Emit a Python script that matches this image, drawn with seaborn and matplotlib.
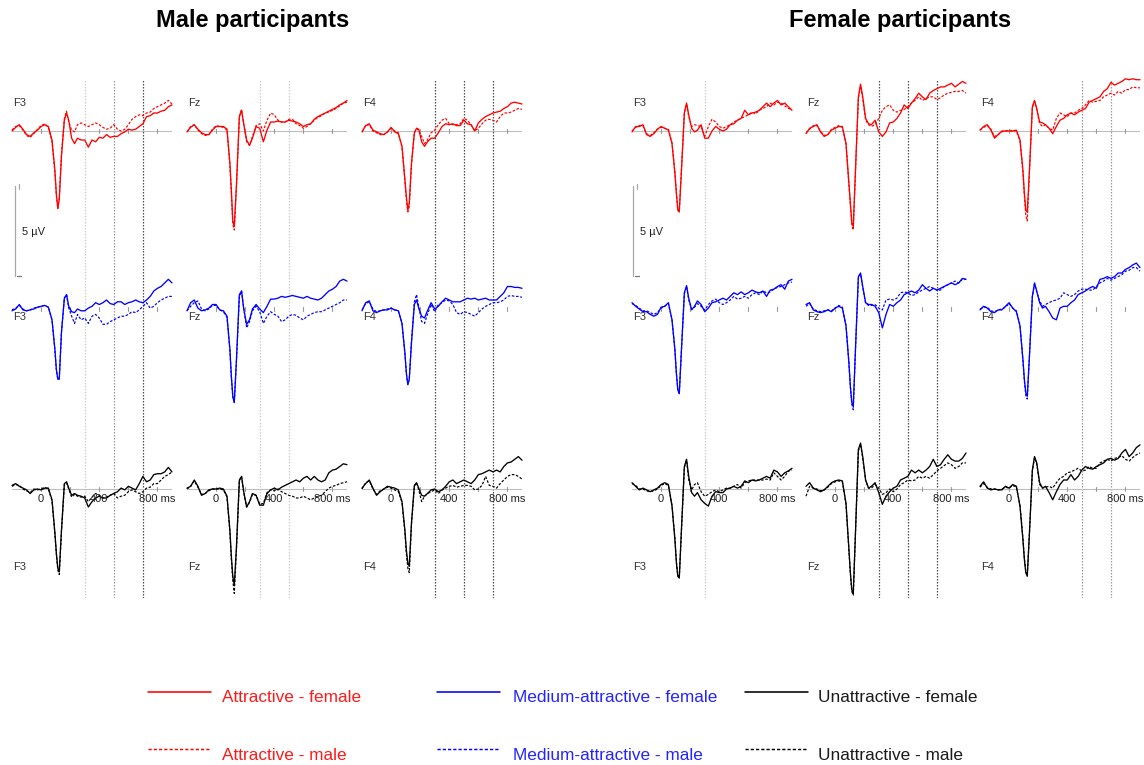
import numpy as np
import pandas as pd
import matplotlib
matplotlib.use("Agg")
import matplotlib.pyplot as plt
from matplotlib.lines import Line2D
import seaborn as sns

# ---------------------------------------------------------------- data
times = [-200, -175, -150, -125, -100, -75, -50, -25, 0, 25, 50,
         75, 95, 105, 115, 125, 140, 160, 175, 190, 210, 230, 250,
         275, 300, 325, 350, 375, 400, 425, 450, 475, 500, 525, 550, 575, 600,
         625, 650, 675, 700, 725, 750, 775, 800, 825, 850, 875, 900]

electrodes = ["F3", "Fz", "F4"]
participant_groups = ["m", "f"]
group_titles = ["Male participants", "Female participants"]
conditions = ["att", "med", "una"]
condition_names = ["Attractive", "Medium-attractive", "Unattractive"]
face_sexes = ["fem", "mal"]
face_sex_names = ["female", "male"]

# grand-average amplitudes (µV); name = participants_condition_facesex_electrode
m_att_fem_F3 = [0.0, 0.2, 0.35, 0.1, -0.2, -0.3, -0.1, 0.05, 0.25, 0.35, 0.25,
                -0.5, -2.2, -3.5, -4.3, -3.8, -1.4, 0.6, 1.0, 0.6, -0.4, -0.7, -0.4,
                -0.5, -0.5, -0.9, -0.5, -0.6, -0.35, -0.4, -0.2, -0.35, -0.3, -0.3, -0.15, -0.05, 0.1, 0.05, 0.1, 0.25, 0.4, 0.8, 0.85, 1.0, 1.0, 1.1, 1.15, 1.35, 1.45]
m_att_mal_F3 = [0.05, 0.25, 0.3, 0.05, -0.25, -0.35, -0.15, 0.1, 0.3, 0.4, 0.2,
                -0.6, -2.3, -3.6, -4.3, -3.7, -1.3, 0.7, 1.1, 0.5, 0.05, -0.05, 0.35,
                0.45, 0.35, 0.25, 0.35, 0.45, 0.35, 0.2, 0.1, 0.15, 0.35, 0.1, 0.0, 0.1, 0.35, 0.65, 0.8, 0.9, 0.85, 1.0, 1.05, 1.25, 1.35, 1.45, 1.55, 1.7, 1.5]
m_att_fem_Fz = [-0.05, 0.2, 0.35, 0.1, -0.1, -0.2, -0.2, 0.05, 0.25, 0.25, 0.25,
                0.1, -1.8, -3.3, -5.0, -5.3, -3.0, 0.8, 1.15, 0.4, -0.5, -0.8, -0.4,
                0.25, 0.15, -0.6, 0.05, 0.5, 0.5, 0.55, 0.5, 0.5, 0.6, 0.55, 0.5, 0.4, 0.25, 0.35, 0.4, 0.65, 0.8, 0.9, 1.0, 1.1, 1.2, 1.3, 1.45, 1.55, 1.7]
m_att_mal_Fz = [-0.05, 0.25, 0.35, 0.05, -0.15, -0.25, -0.2, 0.1, 0.3, 0.25, 0.2,
                0.05, -1.9, -3.5, -5.2, -5.5, -3.1, 0.8, 1.2, 0.35, -0.6, -0.8, -0.3,
                0.3, 0.4, 0.0, 0.6, 1.0, 0.9, 0.6, 0.5, 0.5, 0.65, 0.65, 0.4, 0.3, 0.15, 0.25, 0.4, 0.6, 0.75, 0.85, 1.0, 1.05, 1.15, 1.25, 1.4, 1.55, 1.6]
m_att_fem_F4 = [-0.05, 0.3, 0.4, 0.05, -0.05, -0.15, -0.2, -0.05, 0.2, -0.05, -0.15,
                -0.85, -2.7, -3.65, -4.4, -4.0, -1.8, -0.1, 0.15, 0.1, -0.6, -0.85, -0.6,
                -0.4, -0.4, -0.1, 0.25, 0.4, 0.35, 0.4, 0.3, 0.3, 0.6, 0.4, 0.35, 0.0, 0.45, 0.65, 0.8, 0.9, 1.0, 1.05, 1.1, 1.25, 1.35, 1.55, 1.6, 1.55, 1.5]
m_att_mal_F4 = [-0.05, 0.3, 0.35, 0.0, -0.1, -0.2, -0.2, -0.05, 0.15, 0.0, -0.1,
                -0.9, -2.8, -3.8, -4.5, -4.2, -1.9, -0.1, 0.15, 0.0, -0.3, -0.7, -0.5,
                -0.1, 0.05, 0.35, 0.6, 0.7, 0.4, 0.35, 0.35, 0.4, 0.7, 0.6, 0.35, 0.0, 0.15, 0.4, 0.6, 0.65, 0.6, 0.5, 0.8, 1.0, 1.0, 1.05, 1.15, 1.25, 1.2]

m_med_fem_F3 = [-0.1, 0.0, 0.25, -0.05, -0.1, -0.05, 0.0, 0.1, 0.15, 0.2, 0.1,
                -0.6, -2.25, -3.35, -3.9, -3.9, -1.3, 0.6, 0.8, 0.15, -0.15, -0.2, 0.0,
                -0.1, -0.1, 0.05, 0.15, 0.35, 0.25, 0.35, 0.5, 0.3, 0.25, 0.4, 0.4, 0.25, 0.35, 0.4, 0.5, 0.4, 0.35, 0.5, 0.7, 1.0, 1.15, 1.25, 1.45, 1.65, 1.45]
m_med_mal_F3 = [-0.05, 0.05, 0.2, 0.0, -0.1, -0.05, 0.05, 0.1, 0.15, 0.2, 0.1,
                -0.6, -2.3, -3.4, -3.9, -3.85, -1.3, 0.6, 0.8, 0.05, -0.4, -0.8, -0.3,
                -0.6, -0.5, -0.8, -0.4, -0.3, -0.5, -0.85, -0.85, -0.7, -0.6, -0.5, -0.4, -0.4, -0.3, -0.15, -0.2, -0.05, 0.15, 0.35, 0.05, 0.15, 0.35, 0.5, 0.6, 0.7, 0.7]
m_med_fem_Fz = [-0.1, 0.35, 0.5, 0.05, -0.1, -0.05, 0.05, 0.25, 0.25, -0.05, -0.1,
                -0.4, -2.25, -3.75, -4.85, -5.2, -2.8, 0.8, 1.0, 0.0, -0.85, -0.6, 0.0,
                0.25, 0.0, -0.2, 0.15, 0.55, 0.55, 0.6, 0.7, 0.65, 0.7, 0.75, 0.7, 0.65, 0.6, 0.7, 0.6, 0.55, 0.5, 0.6, 0.8, 1.0, 1.1, 1.25, 1.55, 1.65, 1.55]
m_med_mal_Fz = [-0.1, 0.15, 0.35, 0.45, 0.0, -0.1, 0.0, 0.2, 0.2, -0.05, -0.15,
                -0.45, -2.3, -3.8, -4.9, -5.2, -2.9, 0.7, 1.0, 0.05, -1.05, -0.7, -0.1,
                0.15, -0.15, -0.8, -0.4, -0.15, -0.3, -0.4, -0.7, -0.6, -0.4, -0.3, -0.35, -0.5, -0.6, -0.4, -0.3, -0.2, -0.15, -0.15, -0.05, 0.05, 0.15, 0.25, 0.35, 0.5, 0.5]
m_med_fem_F4 = [-0.1, 0.35, 0.45, -0.1, -0.2, -0.1, -0.05, -0.05, 0.05, -0.05, -0.1,
                -0.8, -2.45, -3.55, -4.2, -3.9, -1.9, 0.25, 0.5, 0.05, -0.4, -0.5, -0.1,
                0.35, 0.0, 0.15, 0.4, 0.6, 0.5, 0.4, 0.4, 0.4, 0.5, 0.6, 0.55, 0.6, 0.5, 0.55, 0.6, 0.5, 0.5, 0.5, 0.7, 0.9, 1.25, 1.25, 1.2, 1.2, 1.15]
m_med_mal_F4 = [-0.05, 0.3, 0.4, 0.0, -0.15, -0.1, -0.05, 0.0, 0.05, -0.05, -0.1,
                -0.8, -2.5, -3.6, -4.2, -3.9, -1.8, 0.4, 0.8, 0.15, -0.7, -0.8, -0.3,
                0.25, -0.15, 0.25, 0.35, 0.5, 0.45, 0.25, -0.2, -0.3, -0.15, -0.2, -0.3, -0.4, -0.2, 0.0, 0.15, 0.25, 0.35, 0.35, 0.4, 0.5, 0.7, 0.75, 0.7, 0.7, 0.65]

m_una_fem_F3 = [0.2, 0.3, 0.15, 0.05, -0.05, -0.25, -0.05, 0.0, -0.05, 0.05, 0.05,
                -0.6, -2.45, -3.55, -4.4, -4.6, -2.3, 0.3, 0.4, 0.05, -0.35, -0.25, -0.35,
                -0.4, -0.5, -1.0, -0.7, -0.5, -0.4, -0.5, -0.5, -0.35, -0.25, -0.15, 0.05, -0.05, 0.15, 0.05, -0.05, 0.3, 0.7, 0.4, 0.5, 0.8, 0.85, 0.85, 0.95, 1.2, 0.95]
m_una_mal_F3 = [0.15, 0.25, 0.2, 0.0, -0.1, -0.2, 0.0, -0.05, 0.0, 0.1, 0.0,
                -0.65, -2.5, -3.65, -4.5, -4.75, -2.4, 0.25, 0.35, 0.0, -0.45, -0.3, -0.4,
                -0.45, -0.4, -0.7, -0.45, -0.25, -0.35, -0.5, -0.45, -0.35, -0.25, -0.5, -0.4, -0.35, -0.15, -0.05, -0.15, -0.25, -0.15, 0.05, 0.1, 0.3, 0.3, 0.5, 0.7, 0.8, 0.95]
m_una_fem_Fz = [0.05, 0.15, 0.5, 0.15, -0.35, -0.25, -0.05, 0.0, 0.0, 0.05, 0.0,
                -0.4, -2.3, -3.75, -4.85, -5.35, -3.2, 0.5, 0.7, -0.15, -1.0, -0.7, -0.25,
                -0.35, -0.9, -0.9, -0.25, -0.05, 0.05, -0.05, 0.1, 0.2, 0.3, 0.4, 0.5, 0.4, 0.6, 0.7, 0.5, 0.7, 0.5, 0.4, 0.5, 0.9, 1.05, 1.1, 1.25, 1.4, 1.35]
m_una_mal_Fz = [0.0, 0.15, 0.45, 0.1, -0.3, -0.25, -0.1, 0.0, 0.0, 0.0, -0.05,
                -0.45, -2.4, -3.9, -5.1, -5.8, -3.4, 0.45, 0.7, -0.2, -1.0, -0.75, -0.3,
                -0.35, -0.85, -0.8, -0.2, -0.05, -0.1, 0.0, -0.15, -0.25, -0.35, -0.4, -0.5, -0.5, -0.4, -0.5, -0.6, -0.5, -0.4, -0.35, -0.15, 0.05, 0.15, 0.2, 0.3, 0.35, 0.4]
m_una_fem_F4 = [0.05, 0.3, 0.5, 0.05, -0.35, -0.15, 0.0, 0.15, 0.1, 0.05, -0.05,
                -0.7, -2.3, -3.4, -4.1, -4.3, -1.9, 0.2, 0.35, 0.05, -0.35, -0.4, -0.25,
                -0.05, 0.0, -0.15, -0.05, 0.15, 0.4, 0.5, 0.3, 0.4, 0.5, 0.4, 0.3, 0.5, 0.8, 0.85, 0.95, 1.05, 0.95, 1.05, 0.95, 1.25, 1.45, 1.5, 1.65, 1.8, 1.6]
m_una_mal_F4 = [0.0, 0.35, 0.45, 0.0, -0.3, -0.1, 0.0, 0.1, 0.05, -0.05, -0.15,
                -0.75, -2.4, -3.6, -4.4, -4.65, -2.0, 0.15, 0.35, -0.05, -0.7, -0.4, -0.25,
                -0.15, -0.05, -0.25, -0.05, 0.05, 0.15, 0.2, 0.1, 0.15, 0.2, 0.2, 0.15, -0.05, 0.0, 0.2, 0.7, 0.2, 0.15, 0.05, 0.3, 0.5, 0.7, 0.8, 0.8, 0.7, 0.55]

f_att_fem_F3 = [-0.05, 0.25, 0.25, 0.35, -0.2, -0.3, -0.15, 0.1, 0.25, 0.15, 0.05,
                -0.7, -2.35, -3.45, -4.4, -4.5, -2.2, 1.0, 1.55, 0.9, 0.15, -0.05, 0.05,
                0.35, -0.4, -0.4, 0.0, 0.25, 0.1, 0.0, 0.1, 0.35, 0.4, 0.6, 0.7, 1.15, 0.9, 1.0, 1.05, 1.15, 1.35, 1.55, 1.35, 1.55, 1.7, 1.45, 1.55, 1.35, 1.15]
f_att_mal_F3 = [0.0, 0.2, 0.3, 0.3, -0.15, -0.25, -0.1, 0.1, 0.2, 0.15, 0.1,
                -0.65, -2.3, -3.4, -4.3, -4.45, -2.1, 1.0, 1.5, 0.8, 0.25, 0.35, 0.3,
                0.25, -0.3, 0.25, 0.65, 0.5, 0.25, 0.15, 0.25, 0.35, 0.5, 0.6, 0.7, 0.8, 0.9, 1.05, 0.95, 1.15, 1.25, 1.35, 1.55, 1.45, 1.6, 1.55, 1.4, 1.25, 1.2]
f_att_fem_Fz = [-0.15, 0.15, 0.25, 0.35, -0.05, -0.3, -0.2, 0.05, 0.15, 0.25, 0.25,
                -0.7, -2.9, -4.0, -5.1, -5.3, -2.2, 1.9, 2.6, 1.9, 0.7, 0.4, 0.35,
                0.6, -0.05, -0.3, -0.05, 0.45, 0.5, 0.7, 1.0, 1.45, 1.25, 1.55, 1.8, 2.1, 1.9, 1.75, 2.1, 2.25, 2.35, 2.45, 2.45, 2.55, 2.65, 2.45, 2.6, 2.75, 2.65]
f_att_mal_Fz = [-0.1, 0.1, 0.3, 0.3, 0.0, -0.25, -0.2, 0.1, 0.2, 0.3, 0.2,
                -0.7, -3.0, -4.1, -5.2, -5.5, -2.3, 1.8, 2.5, 1.8, 0.6, 0.35, 0.25,
                0.35, 0.7, 1.15, 1.35, 1.45, 1.15, 1.05, 1.15, 1.2, 1.35, 1.55, 1.7, 1.9, 1.7, 1.8, 1.9, 1.9, 1.75, 1.85, 2.0, 2.1, 2.15, 2.2, 2.2, 2.25, 2.1]
f_att_fem_F4 = [0.05, 0.25, 0.35, 0.05, -0.4, -0.2, 0.0, 0.0, 0.0, 0.0, 0.05,
                -0.5, -2.15, -3.45, -4.4, -4.5, -2.15, 1.35, 1.7, 1.25, 0.5, 0.45, 0.35,
                0.15, -0.15, 0.25, 0.6, 0.7, 0.9, 1.0, 0.9, 1.05, 1.15, 1.25, 1.6, 1.7, 1.8, 1.9, 2.2, 2.35, 2.7, 2.55, 2.65, 2.75, 2.9, 2.85, 2.9, 2.85, 2.85]
f_att_mal_F4 = [0.05, 0.2, 0.3, 0.1, -0.3, -0.2, -0.05, 0.0, 0.05, 0.0, 0.0,
                -0.55, -2.3, -3.6, -4.7, -5.0, -2.3, 1.3, 1.65, 1.2, 0.4, 0.25, 0.35,
                0.15, 0.05, 0.7, 1.0, 0.9, 0.8, 1.0, 1.0, 1.15, 1.25, 1.45, 1.7, 1.6, 1.65, 1.7, 1.9, 2.0, 2.1, 2.0, 2.2, 2.1, 2.3, 2.3, 2.45, 2.4, 2.4]

f_med_fem_F3 = [0.35, 0.15, 0.0, -0.15, -0.15, -0.3, -0.4, -0.3, 0.1, 0.15, 0.35,
                -0.6, -2.25, -3.55, -4.5, -4.7, -2.25, 0.9, 1.3, 0.6, -0.05, 0.15, 0.45,
                0.25, -0.15, 0.05, 0.35, 0.4, 0.5, 0.6, 0.5, 0.7, 0.9, 0.8, 0.95, 0.8, 0.9, 1.05, 0.95, 0.9, 1.0, 0.7, 1.05, 1.1, 1.25, 1.35, 1.1, 1.55, 1.65]
f_med_mal_F3 = [0.3, 0.2, 0.05, -0.1, -0.1, -0.2, -0.3, -0.2, 0.05, 0.15, 0.3,
                -0.6, -2.3, -3.6, -4.5, -4.7, -2.3, 0.85, 1.25, 0.5, 0.0, 0.1, 0.3,
                0.15, -0.05, 0.25, 0.45, 0.55, 0.35, 0.25, 0.35, 0.5, 0.7, 0.55, 0.6, 0.7, 0.6, 0.8, 0.9, 0.8, 1.0, 0.9, 0.95, 1.1, 1.2, 1.25, 1.35, 1.45, 1.5]
f_med_fem_Fz = [0.25, 0.35, -0.05, -0.15, -0.2, -0.15, -0.05, -0.15, 0.05, 0.15, 0.05,
                -0.95, -3.0, -4.3, -5.2, -5.4, -2.25, 1.8, 2.0, 1.25, 0.35, 0.25, 0.25,
                0.15, -0.2, -1.05, -0.3, 0.25, 0.15, 0.35, 0.5, 0.8, 0.9, 1.0, 0.9, 1.05, 1.35, 1.15, 1.0, 1.15, 1.05, 1.15, 1.25, 1.35, 1.45, 1.35, 1.45, 1.7, 1.65]
f_med_mal_Fz = [0.15, 0.3, 0.0, -0.1, -0.15, -0.1, -0.05, -0.1, 0.05, 0.2, 0.1,
                -0.9, -3.0, -4.3, -5.3, -5.6, -2.3, 1.7, 1.95, 1.2, 0.3, 0.2, 0.2,
                0.25, 0.05, -0.05, 0.5, 0.55, 0.5, 0.6, 0.9, 0.95, 0.9, 0.75, 0.8, 0.95, 1.05, 1.15, 1.25, 1.15, 1.05, 1.05, 1.25, 1.35, 1.45, 1.55, 1.45, 1.65, 1.65]
f_med_fem_F4 = [-0.05, 0.15, 0.05, -0.15, -0.2, -0.05, -0.05, 0.15, 0.35, 0.05, -0.15,
                -0.95, -2.8, -3.9, -4.65, -4.85, -2.6, 0.7, 1.45, 1.0, 0.35, 0.05, 0.15,
                -0.15, -0.5, -0.6, 0.05, 0.15, 0.15, 0.35, 0.5, 0.8, 0.9, 1.0, 1.15, 1.25, 1.15, 1.65, 1.7, 1.8, 1.7, 1.8, 2.0, 2.0, 2.2, 2.3, 2.45, 2.55, 2.3]
f_med_mal_F4 = [0.0, 0.1, 0.1, -0.1, -0.15, -0.05, 0.0, 0.1, 0.3, 0.05, -0.1,
                -0.9, -2.85, -4.0, -4.8, -5.0, -2.6, 0.7, 1.4, 0.95, 0.45, 0.15, 0.25,
                0.35, 0.45, 0.5, 0.6, 0.9, 0.8, 0.7, 0.8, 1.0, 1.1, 1.1, 1.05, 1.05, 1.25, 1.45, 1.55, 1.7, 1.6, 1.7, 1.8, 1.9, 2.1, 2.15, 2.3, 2.3, 2.1]

f_una_fem_F3 = [0.35, 0.15, -0.05, 0.05, -0.05, -0.15, -0.05, 0.05, 0.25, 0.35, 0.25,
                -0.95, -2.8, -4.1, -4.85, -4.95, -2.25, 1.25, 1.65, 0.7, -0.2, -0.4, -0.2,
                -0.6, -0.8, -0.95, -0.4, -0.15, -0.2, -0.2, 0.0, 0.05, 0.15, 0.05, 0.15, 0.45, 0.35, 0.5, 0.45, 0.5, 0.6, 0.7, 0.6, 1.05, 0.95, 0.7, 0.9, 1.0, 1.15]
f_una_mal_F3 = [0.3, 0.2, 0.0, 0.0, -0.1, -0.15, -0.1, 0.0, 0.2, 0.3, 0.2,
                -0.9, -2.75, -4.0, -4.8, -4.95, -2.3, 1.2, 1.6, 0.5, -0.05, 0.25, 0.35,
                -0.15, -0.4, -0.3, -0.15, -0.05, -0.15, -0.05, 0.05, 0.05, 0.15, 0.25, 0.05, 0.35, 0.45, 0.5, 0.5, 0.5, 0.5, 0.55, 0.5, 0.9, 0.7, 0.5, 0.7, 1.0, 1.05]
f_una_fem_Fz = [0.15, 0.35, 0.05, -0.05, -0.15, -0.05, 0.15, 0.35, 0.45, 0.5, 0.45,
                -0.8, -3.35, -4.65, -5.6, -5.8, -2.45, 2.2, 2.55, 1.8, 0.5, 0.05, 0.15,
                0.35, -0.2, -0.85, -0.4, -0.15, 0.05, 0.15, 0.5, 0.6, 0.7, 1.05, 0.9, 1.05, 0.9, 1.05, 1.25, 1.65, 1.25, 1.35, 1.65, 1.9, 1.65, 1.55, 1.55, 1.7, 2.0]
f_una_mal_Fz = [-0.4, 0.15, 0.05, 0.0, -0.1, -0.05, 0.1, 0.3, 0.4, 0.45, 0.4,
                -0.85, -3.4, -4.7, -5.7, -5.9, -2.5, 2.1, 2.5, 1.7, 0.45, 0.05, 0.05,
                0.25, 0.05, -0.3, -0.2, 0.0, -0.15, 0.0, 0.25, 0.35, 0.5, 0.45, 0.5, 0.7, 0.6, 0.7, 0.6, 0.8, 1.0, 1.15, 1.3, 1.45, 1.35, 1.15, 1.25, 1.45, 1.45]
f_una_fem_F4 = [0.15, 0.4, 0.05, -0.05, 0.0, -0.05, -0.05, 0.15, 0.05, 0.25, 0.15,
                -0.95, -2.8, -3.9, -4.65, -4.85, -2.45, 1.05, 1.8, 1.45, 0.35, 0.05, 0.15,
                -0.2, -0.6, -0.15, 0.25, 0.5, 0.5, 0.8, 0.5, 0.7, 1.05, 1.25, 1.15, 1.1, 1.25, 1.35, 1.45, 1.65, 1.7, 1.6, 1.7, 2.0, 2.2, 1.8, 2.0, 2.3, 2.45]
f_una_mal_F4 = [0.1, 0.3, 0.1, 0.0, 0.0, -0.05, 0.0, 0.1, 0.05, 0.2, 0.1,
                -0.9, -2.75, -3.85, -4.6, -4.8, -2.4, 1.0, 1.75, 1.4, 0.25, 0.05, 0.1,
                0.15, 0.05, 0.35, 0.6, 0.7, 0.9, 0.95, 1.05, 1.15, 1.0, 1.05, 1.25, 1.15, 1.15, 1.45, 1.55, 1.65, 1.55, 1.7, 1.75, 1.85, 1.65, 1.55, 1.75, 1.9, 2.0]

# analysis windows (ms) marked in each panel column
windows = {
    ("m", "F3"): [300, 500, 700],
    ("m", "Fz"): [300, 500],
    ("m", "F4"): [300, 500, 700],
    ("f", "F3"): [300],
    ("f", "Fz"): [300, 500, 700],
    ("f", "F4"): [500, 700],
}
time_tick_labels = ["0", "400", "800 ms"]
time_tick_positions = [0, 400, 800]
scale_label = "5 µV"

# ---------------------------------------------------------------- long-form table
records = []
for g in participant_groups:
    for c in conditions:
        for fs in face_sexes:
            for e in electrodes:
                vals = globals()[f"{g}_{c}_{fs}_{e}"]
                if len(vals) != len(times):
                    raise ValueError(f"{g}_{c}_{fs}_{e}: {len(vals)} values")
                for t, v in zip(times, vals):
                    records.append((g, c, fs, e, t, v))
erp = pd.DataFrame(records, columns=["group", "condition", "face", "electrode", "time", "amp"])

# ---------------------------------------------------------------- style
sns.set_style("white")
plt.rcParams["font.family"] = ["Liberation Sans", "DejaVu Sans"]

W, H = 1144, 765
fig = plt.figure(figsize=(W / 100, H / 100), dpi=100)
fig.patch.set_facecolor("white")

cond_colors = {"att": "#ff0000", "med": "#0000ff", "una": "#000000"}
text_colors = {"att": "#ff1a1a", "med": "#2424ff", "una": "#1a1a1a"}
face_styles = {"fem": dict(lw=0.95, linestyle="-"),
               "mal": dict(lw=0.85, linestyle=(0, (2.2, 1.4)))}
shade = {"light": "#cccccc", "mid": "#9a9a9a", "dark": "#4d4d4d"}
window_shades = {
    ("m", "F3"): ["light", "mid", "dark"],
    ("m", "Fz"): ["light", "light"],
    ("m", "F4"): ["dark", "dark", "dark"],
    ("f", "F3"): ["light"],
    ("f", "Fz"): ["dark", "dark", "dark"],
    ("f", "F4"): ["mid", "mid"],
}

col_left = {"m": [12, 187, 362], "f": [632, 806, 980]}
PANEL_W = 160
T0, T1 = -200, 900
PX_PER_UV = 18.0
# (top, bottom, baseline) in pixels for the three condition rows
row_geom = {"att": (80, 250, 131), "med": (250, 420, 309), "una": (420, 598, 489)}
label_y = {"att": 103, "med": 317, "una": 567}


def fx(x):
    return x / W


def fy(y):
    return 1 - y / H


def px_axes(x0, y0, w, h):
    ax = fig.add_axes([fx(x0), fy(y0 + h), w / W, h / H])
    ax.set_axis_off()
    ax.patch.set_alpha(0)
    return ax


for g in participant_groups:
    for ei, e in enumerate(electrodes):
        L = col_left[g][ei]
        for c in conditions:
            top, bot, base = row_geom[c]
            ax = px_axes(L, top, PANEL_W, bot - top)
            ax.set_xlim(T0, T1)
            ax.set_ylim(-(bot - base) / PX_PER_UV, (base - top) / PX_PER_UV)

            for t, s in zip(windows[(g, e)], window_shades[(g, e)]):
                ax.axvline(t, color=shade[s], lw=0.9, linestyle=(0, (1.2, 1.2)), zorder=1)

            if c != "med":
                ax.axhline(0, color="#bdbdbd", lw=0.8, zorder=1)
            tick_h = 1.6 / PX_PER_UV
            for t in range(0, 801, 200):
                ax.plot([t, t], [-tick_h, tick_h], color="#9a9a9a", lw=0.8, zorder=1)

            for fs in face_sexes:
                sub = erp[(erp.group == g) & (erp.condition == c) &
                          (erp.face == fs) & (erp.electrode == e)]
                sns.lineplot(data=sub, x="time", y="amp", ax=ax, color=cond_colors[c],
                             estimator=None, sort=False, clip_on=False, zorder=3,
                             **face_styles[fs])
            ax.set_axis_off()

            if c == "una":
                for t, lab in zip(time_tick_positions, time_tick_labels):
                    ax.text(t, -5 / PX_PER_UV, lab, ha="center", va="top",
                            fontsize=8, color="#222222", zorder=4)

            fig.text(fx(L + 1), fy(label_y[c]), e, ha="left", va="center",
                     fontsize=8, color="#333333")

# amplitude scale bars
for x0 in (14.5, 632.5):
    fig.add_artist(Line2D([fx(x0), fx(x0)], [fy(186), fy(276)], color="#a8a8a8", lw=0.9))
    fig.add_artist(Line2D([fx(x0 + 4.5), fx(x0 + 4.5)], [fy(184), fy(189)], color="#a8a8a8", lw=0.9))
    fig.add_artist(Line2D([fx(x0 + 2.5), fx(x0 + 6.5)], [fy(276), fy(276)], color="#777777", lw=0.9))
    fig.text(fx(x0 + 8), fy(232), scale_label, ha="left", va="center", fontsize=8, color="#222222")

# group titles
for title, xc in zip(group_titles, (253, 900)):
    fig.text(fx(xc), fy(20), title, ha="center", va="center",
             fontsize=17, fontweight="bold", color="black")

# legend
leg_line_x = {"att": (148, 211), "med": (437, 500), "una": (745, 808)}
leg_text_x = {"att": 222, "med": 513, "una": 818}
leg_rows = {"fem": (692, 697), "mal": (749, 755)}
for c, cname in zip(conditions, condition_names):
    for fs, fname in zip(face_sexes, face_sex_names):
        ly, ty = leg_rows[fs]
        x0, x1 = leg_line_x[c]
        st = face_styles[fs]
        fig.add_artist(Line2D([fx(x0), fx(x1)], [fy(ly), fy(ly)], color=cond_colors[c],
                              lw=st["lw"] + 0.2, linestyle=st["linestyle"]))
        fig.text(fx(leg_text_x[c]), fy(ty), f"{cname} - {fname}", ha="left", va="center",
                 fontsize=12.4, color=text_colors[c])

fig.savefig("out.png", dpi=100, facecolor="white")
